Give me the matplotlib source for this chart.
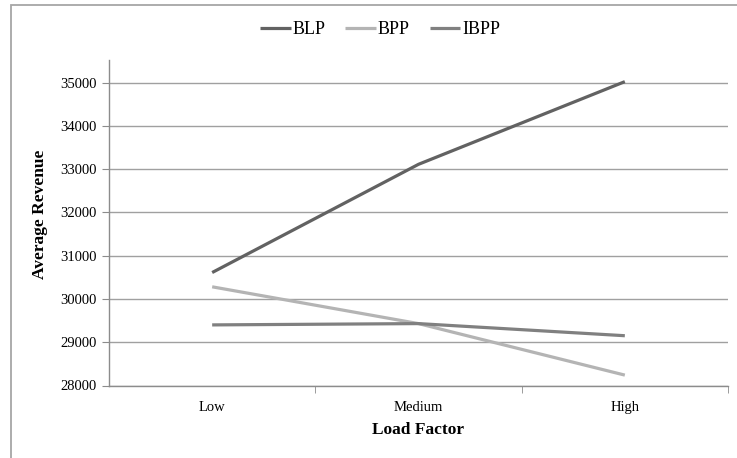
import matplotlib.pyplot as plt
from matplotlib.patches import Rectangle
from matplotlib.ticker import FixedLocator

# data
categories = ['Low', 'Medium', 'High']
blp = [30610, 33110, 35020]
bpp = [30280, 29430, 28240]
ibpp = [29400, 29430, 29150]

plt.rcParams['font.family'] = ['Liberation Serif', 'DejaVu Serif']

fig = plt.figure(figsize=(7.37, 4.58), dpi=100, facecolor='white')
ax = fig.add_axes([109 / 737, 1 - 385.5 / 458, 619 / 737, 325.5 / 458])

# outer chart-area frame
fig.patches.append(Rectangle((11 / 737, -0.1), 1.2, 1.1 - 5 / 458,
                             transform=fig.transFigure, fill=False,
                             edgecolor='#a6a6a6', linewidth=1.3, zorder=0))

x = range(len(categories))
ax.plot(x, blp, color='#626262', lw=2.3, label='BLP', solid_capstyle='butt', zorder=3)
ax.plot(x, bpp, color='#b4b4b4', lw=2.3, label='BPP', solid_capstyle='butt', zorder=3)
ax.plot(x, ibpp, color='#808080', lw=2.3, label='IBPP', solid_capstyle='butt', zorder=3)

ax.set_xlim(-0.5, 2.5)
ax.set_ylim(28000, 35520)
ax.set_yticks(range(28000, 35001, 1000))
ax.yaxis.grid(True, color='#a0a0a0', lw=1.0)
ax.set_axisbelow(True)

ax.set_xticks(list(x))
ax.set_xticklabels(categories, fontsize=10.5)
ax.xaxis.set_minor_locator(FixedLocator([0.5, 1.5, 2.5]))
ax.tick_params(axis='x', which='major', length=0, pad=11)
ax.tick_params(axis='x', which='minor', length=5, color='#8c8c8c', direction='out')
ax.tick_params(axis='y', length=5, color='#8c8c8c', labelsize=10.5, pad=4)

for s in ['top', 'right']:
    ax.spines[s].set_visible(False)
for s in ['left', 'bottom']:
    ax.spines[s].set_color('#8c8c8c')
    ax.spines[s].set_linewidth(1.0)

ax.set_xlabel('Load Factor', fontsize=12.5, fontweight='bold', labelpad=6)
ax.set_ylabel('Average Revenue', fontsize=12.5, fontweight='bold')
ax.yaxis.set_label_coords(-0.098, 0.527)

fig.legend(loc='center', bbox_to_anchor=(380 / 737, 1 - 30 / 458), ncol=3,
           frameon=False, fontsize=13, handlelength=1.7, handletextpad=0.1,
           columnspacing=1.1)

fig.savefig('out.png', dpi=100, facecolor='white')
